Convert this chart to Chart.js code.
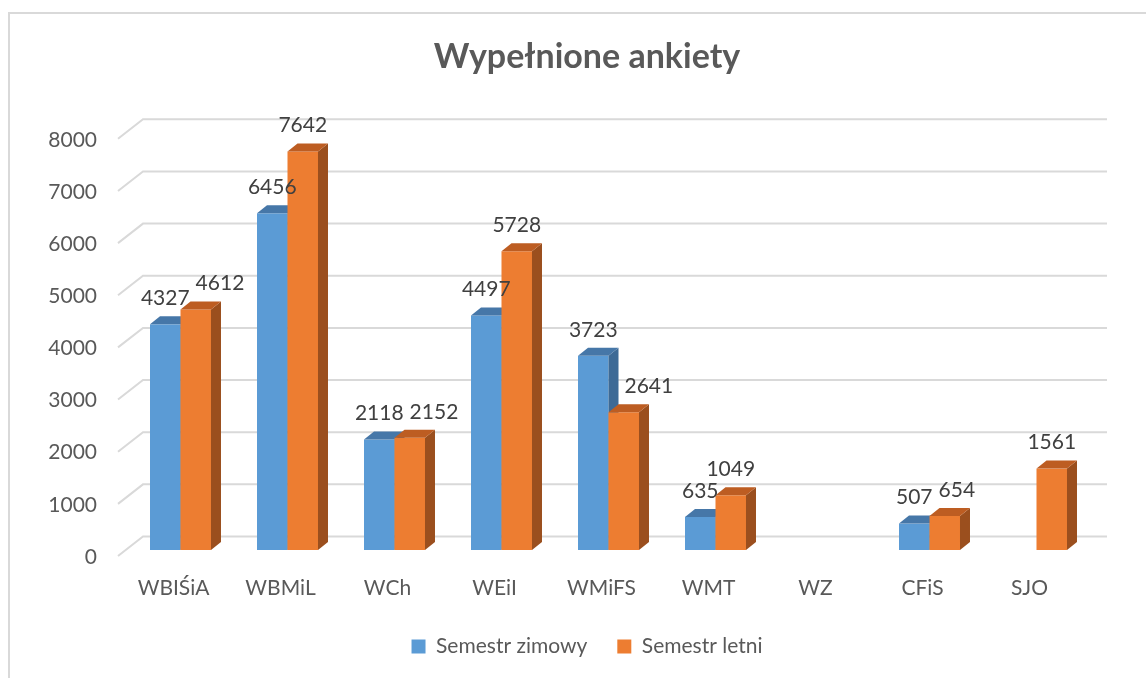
<!DOCTYPE html>
<html>
<head>
<meta charset="utf-8">
<title>Wypełnione ankiety</title>
<script src="https://cdn.jsdelivr.net/npm/chart.js@4.4.1/dist/chart.umd.min.js"></script>
<style>
  html, body { margin: 0; padding: 0; background: #fff; overflow: hidden; }
  #frame {
    position: absolute; left: 8px; top: 12px; width: 1200px; height: 700px;
    border-left: 2px solid #d9d9d9; border-top: 2px solid #d9d9d9;
  }
  #wrap { position: absolute; left: 0; top: 0; width: 1146px; height: 678px; }
</style>
</head>
<body>
<div id="frame"></div>
<div id="wrap"><canvas id="chart" width="1146" height="678"></canvas></div>
<script>
// dane z wykresu
const categories = ['WBIŚiA', 'WBMiL', 'WCh', 'WEiI', 'WMiFS', 'WMT', 'WZ', 'CFiS', 'SJO'];
const zimowy = [4327, 6456, 2118, 4497, 3723, 635, null, 507, null];
const letni = [4612, 7642, 2152, 5728, 2641, 1049, null, 654, 1561];
const seriesNames = ['Semestr zimowy', 'Semestr letni'];
const yMax = 8000;
const yStep = 1000;

// kolory scian slupkow: przod, gora, bok
const frontColors = ['#5b9bd5', '#ed7d31'];
const topColors = ['#4677a8', '#bd5d22'];
const sideColors = ['#3d6a96', '#9b4f1e'];

const FONT = 'Lato, "Open Sans", sans-serif';
const DX = 10; // glebokosc slupka
const DY = 8;
const LABEL_GAP = 6;
const LABEL_H = 20;

// rysuje siatke 3D, slupki z bokami i etykiety wartosci
const bars3d = {
    id: 'bars3d',
    beforeDatasetsDraw(chart) {
        const ctx = chart.ctx;
        const area = chart.chartArea;
        const yScale = chart.scales.y;

        ctx.save();
        ctx.strokeStyle = '#d9d9d9';
        ctx.lineWidth = 2;
        yScale.ticks.forEach(function(t) {
            const py = yScale.getPixelForValue(t.value);
            ctx.beginPath();
            ctx.moveTo(area.left - 9, py + 6);
            ctx.lineTo(area.left + 16, py - 13.5);
            ctx.lineTo(area.right + 17, py - 13.5);
            ctx.stroke();
        });

        ctx.font = '21px ' + FONT;
        const labels = [];
        categories.forEach(function(cat, j) {
            let prev = null; // etykieta i slupek poprzedniej serii w tej kategorii
            chart.data.datasets.forEach(function(ds, i) {
                const v = ds.data[j];
                if (v == null) return;
                const bar = chart.getDatasetMeta(i).data[j];
                const p = bar.getProps(['x', 'y', 'base', 'width'], true);
                const l = p.x - p.width / 2;
                const r = p.x + p.width / 2;

                ctx.fillStyle = frontColors[i];
                ctx.fillRect(l, p.y, p.width, p.base - p.y);

                ctx.fillStyle = sideColors[i];
                ctx.beginPath();
                ctx.moveTo(r, p.y);
                ctx.lineTo(r + DX, p.y - DY);
                ctx.lineTo(r + DX, p.base - DY);
                ctx.lineTo(r, p.base);
                ctx.closePath();
                ctx.fill();

                ctx.fillStyle = topColors[i];
                ctx.beginPath();
                ctx.moveTo(l, p.y);
                ctx.lineTo(l + DX, p.y - DY);
                ctx.lineTo(r + DX, p.y - DY);
                ctx.lineTo(r, p.y);
                ctx.closePath();
                ctx.fill();

                // etykieta nad slupkiem, przesunieta w prawo gdy nachodzi na sasiada
                const text = String(v);
                const w = ctx.measureText(text).width;
                const lb = { x: p.x, y: p.y - 26, w: w, text: text };
                if (prev) {
                    const pl = prev.label;
                    if (Math.abs(pl.y - lb.y) < LABEL_H && lb.x - w / 2 < pl.x + pl.w / 2 + LABEL_GAP) {
                        lb.x = pl.x + pl.w / 2 + LABEL_GAP + w / 2;
                    }
                    if (lb.y + LABEL_H / 2 > prev.top - DY && lb.x - w / 2 < prev.right + DX + LABEL_GAP) {
                        lb.x = prev.right + DX + LABEL_GAP + w / 2;
                    }
                }
                labels.push(lb);
                prev = { label: lb, top: p.y, right: r };
            });
        });

        ctx.fillStyle = '#404040';
        ctx.textAlign = 'center';
        ctx.textBaseline = 'middle';
        labels.forEach(function(lb) {
            ctx.fillText(lb.text, lb.x, lb.y);
        });
        ctx.restore();
        return false; // zwykle slupki Chart.js nie sa rysowane
    }
};

const chart = new Chart(document.getElementById('chart'), {
    type: 'bar',
    data: {
        labels: categories,
        datasets: [
            { label: seriesNames[0], data: zimowy, backgroundColor: frontColors[0] },
            { label: seriesNames[1], data: letni, backgroundColor: frontColors[1] }
        ]
    },
    plugins: [bars3d],
    options: {
        responsive: false,
        animation: false,
        datasets: {
            bar: { categoryPercentage: 0.57, barPercentage: 1.0 }
        },
        layout: {
            padding: { left: 28, right: 0, top: 0, bottom: 11 }
        },
        plugins: {
            title: {
                display: true,
                text: 'Wypełnione ankiety',
                color: '#595959',
                font: { family: FONT, size: 34, weight: 'bold', lineHeight: 1.2 },
                padding: { top: 37, bottom: 55 }
            },
            legend: {
                display: true,
                position: 'bottom',
                labels: {
                    color: '#595959',
                    font: { family: FONT, size: 21 },
                    boxWidth: 14,
                    boxHeight: 14,
                    padding: 30
                }
            },
            tooltip: { enabled: false }
        },
        scales: {
            x: {
                grid: { display: false, drawTicks: false },
                border: { display: false },
                ticks: {
                    color: '#595959',
                    font: { family: FONT, size: 21 },
                    padding: 26,
                    labelOffset: -7,
                    maxRotation: 0,
                    autoSkip: false
                },
                afterFit: function(scale) {
                    scale.height = 56;
                    scale.paddingRight = 56;
                }
            },
            y: {
                min: 0,
                max: yMax,
                grid: { display: false, drawTicks: false },
                border: { display: false },
                ticks: {
                    stepSize: yStep,
                    color: '#595959',
                    font: { family: FONT, size: 21 },
                    padding: 30,
                    labelOffset: 7,
                    callback: function(value) { return String(value); }
                },
                afterFit: function(scale) {
                    scale.width = 99;
                }
            }
        }
    }
});
</script>
</body>
</html>
